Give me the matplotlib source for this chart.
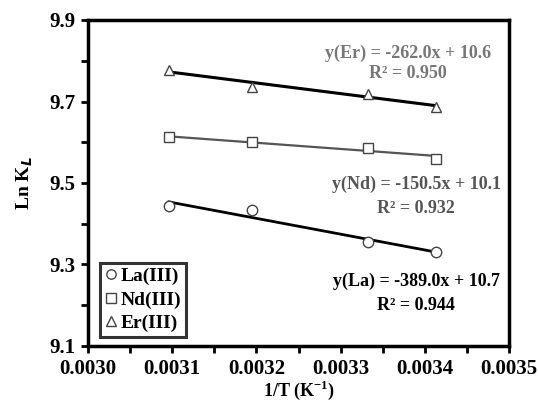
import numpy as np
import matplotlib.pyplot as plt
from matplotlib.ticker import MultipleLocator, FixedLocator

plt.rcParams['font.family'] = ['Liberation Serif', 'DejaVu Serif']
plt.rcParams['font.weight'] = 'bold'
plt.rcParams['mathtext.fontset'] = 'custom'
plt.rcParams['mathtext.rm'] = 'Liberation Serif:bold'
plt.rcParams['mathtext.bf'] = 'Liberation Serif:bold'

# 1/T values (K^-1)
invT = [0.003096, 0.003195, 0.003333, 0.003413]

lnK_La = [9.443, 9.433, 9.355, 9.330]
lnK_Nd = [9.612, 9.600, 9.587, 9.560]
lnK_Er = [9.778, 9.736, 9.719, 9.687]

labels = ['La(III)', 'Nd(III)', 'Er(III)']
eq_La = ['y(La) = -389.0x + 10.7', 'R² = 0.944']
eq_Nd = ['y(Nd) = -150.5x + 10.1', 'R² = 0.932']
eq_Er = ['y(Er) = -262.0x + 10.6', 'R² = 0.950']
yticks = [9.1, 9.3, 9.5, 9.7, 9.9]

fig = plt.figure(figsize=(5.38, 4.04), dpi=100)
ax = fig.add_axes([88/538, 58/404, 421/538, 326/404])

x = np.array(invT)
series = [(lnK_La, 'o', '#000000', 2.0),
          (lnK_Nd, 's', '#555555', 1.6),
          (lnK_Er, '^', '#000000', 2.2)]
handles = []
for (y, m, lc, lw), lab in zip(series, labels):
    y = np.array(y)
    p = np.polyfit(x, y, 1)
    ax.plot(x, np.polyval(p, x), color=lc, lw=lw, zorder=2)
    h, = ax.plot(x, y, m, ms=7.5, mfc='white', mec='#444444', mew=1.0, ls='none',
                 label=lab, zorder=3)
    handles.append(h)

ax.set_xlim(0.0030, 0.0035)
ax.set_ylim(9.1, 9.9)
ax.xaxis.set_major_locator(MultipleLocator(0.0001))
ax.xaxis.set_minor_locator(MultipleLocator(0.00005))
ax.yaxis.set_major_locator(FixedLocator(yticks))
ax.yaxis.set_minor_locator(MultipleLocator(0.1))
ax.xaxis.set_major_formatter(plt.FuncFormatter(lambda v, _: f'{v:.4f}'))
ax.yaxis.set_major_formatter(plt.FuncFormatter(lambda v, _: f'{v:.1f}'))
ax.tick_params(which='both', direction='out', width=2, length=5, labelsize=15, pad=4)
for s in ax.spines.values():
    s.set_linewidth(2.5)

ax.set_xlabel('1/T (K$^{-1}$)', fontsize=13, fontweight='bold', labelpad=0)
ax.set_ylabel('Ln K$_L$', fontsize=14, fontweight='bold', labelpad=10)

tkw = dict(fontsize=13, fontweight='bold', ha='center', va='center')
ax.text(0.003380, 9.818, eq_Er[0], color='#777777', **tkw)
ax.text(0.003380, 9.768, eq_Er[1], color='#777777', **tkw)
ax.text(0.003390, 9.496, eq_Nd[0], color='#555555', **tkw)
ax.text(0.003390, 9.438, eq_Nd[1], color='#555555', **tkw)
ax.text(0.003390, 9.258, eq_La[0], color='#000000', **tkw)
ax.text(0.003390, 9.200, eq_La[1], color='#000000', **tkw)

leg = ax.legend(handles=handles, loc='lower left', bbox_to_anchor=(0.02, 0.015),
                fontsize=14, frameon=True, fancybox=False, edgecolor='black',
                handlelength=0.6, handletextpad=0.2, borderpad=0.25, labelspacing=0.3,
                markerscale=0.9, borderaxespad=0.2)
leg.get_frame().set_linewidth(2.2)

fig.savefig('out.png', dpi=100)
